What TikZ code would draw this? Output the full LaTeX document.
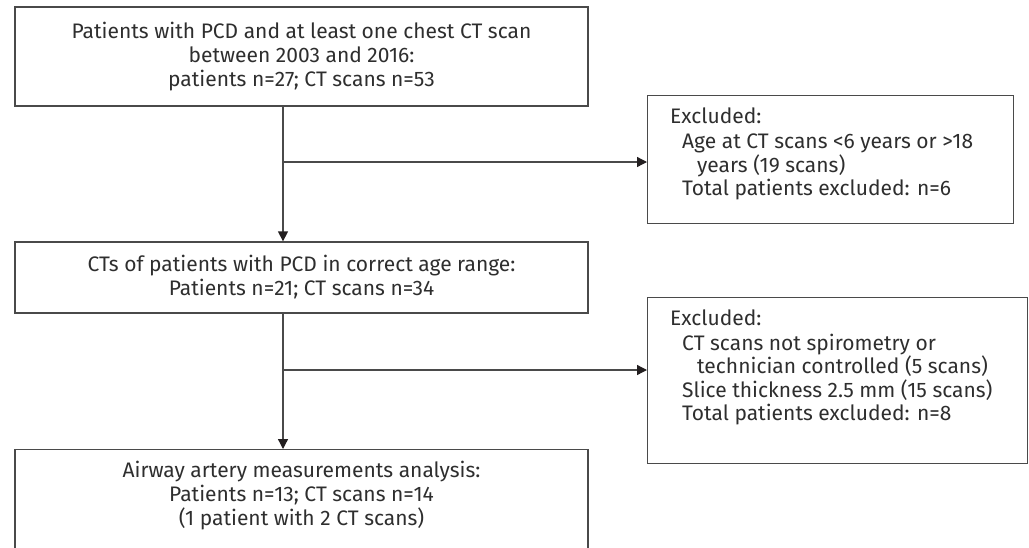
\documentclass[tikz,border=0pt]{standalone}
\usepackage{fontspec}
\setmainfont{Fira Sans}
\usetikzlibrary{arrows.meta}
\definecolor{linegray}{HTML}{4A4A4A}
\definecolor{textgray}{HTML}{2E2E2E}
\definecolor{tipblack}{HTML}{231F20}
\begin{document}
\begin{tikzpicture}[x=1pt,y=-1pt,
  box/.style={draw=linegray, line width=1.3pt, inner sep=0pt},
  txt/.style={font=\fontsize{21}{24}\selectfont, text=textgray, inner sep=0pt},
  arr/.style={draw=linegray, line width=1.3pt, -{Triangle[length=10pt,width=10pt,color=tipblack]}},
  lin/.style={draw=linegray, line width=1.3pt}]
\useasboundingbox (0,0) rectangle (1029,547);
\clip (0,0) rectangle (1029,547);
% main boxes
\node[box, txt, align=center, minimum width=573pt, minimum height=99pt] (n1) at (301.5,56.5)
  {Patients with PCD and at least one chest CT scan\\between 2003 and 2016:\\patients n=27; CT scans n=53};
\node[box, txt, align=center, minimum width=573pt, minimum height=71pt] (n2) at (301.5,277.5)
  {CTs of patients with PCD in correct age range:\\Patients n=21; CT scans n=34};
\node[box, anchor=north, minimum width=573pt, minimum height=120pt] (n3) at (301.5,449) {};
\node[txt, align=center] (t3) at (301.5,496)
  {Airway artery measurements analysis:\\Patients n=13; CT scans n=14\\(1 patient with 2 CT scans)};
% excluded boxes
\node[box, anchor=north west, minimum width=366pt, minimum height=128pt] (e1) at (647,95) {};
\node[txt, anchor=base west] (e1a) at (670,123) {Excluded:};
\node[txt, anchor=base west] (e1b) at (682,148) {Age at CT scans <6 years or >18};
\node[txt, anchor=base west] (e1c) at (697,172) {years (19 scans)};
\node[txt, anchor=base west] (e1d) at (682,195) {Total patients excluded: n=6};
\node[box, anchor=north west, minimum width=380pt, minimum height=166pt] (e2) at (647,297) {};
\node[txt, anchor=base west] (e2a) at (670,325) {Excluded:};
\node[txt, anchor=base west] (e2b) at (682,350) {CT scans not spirometry or};
\node[txt, anchor=base west] (e2c) at (697,373) {technician controlled (5 scans)};
\node[txt, anchor=base west] (e2d) at (682,397) {Slice thickness 2.5 mm (15 scans)};
\node[txt, anchor=base west] (e2e) at (682,420) {Total patients excluded: n=8};
% connectors
\coordinate (j1) at (283,162);
\coordinate (j2) at (283,370);
\draw[arr] (n1.south -| j1) -- (n2.north -| j1);
\draw[arr] (j1) -- (j1 -| e1.west);
\draw[arr] (n2.south -| j2) -- (n3.north -| j2);
\draw[arr] (j2) -- (j2 -| e2.west);
\end{tikzpicture}
\end{document}
